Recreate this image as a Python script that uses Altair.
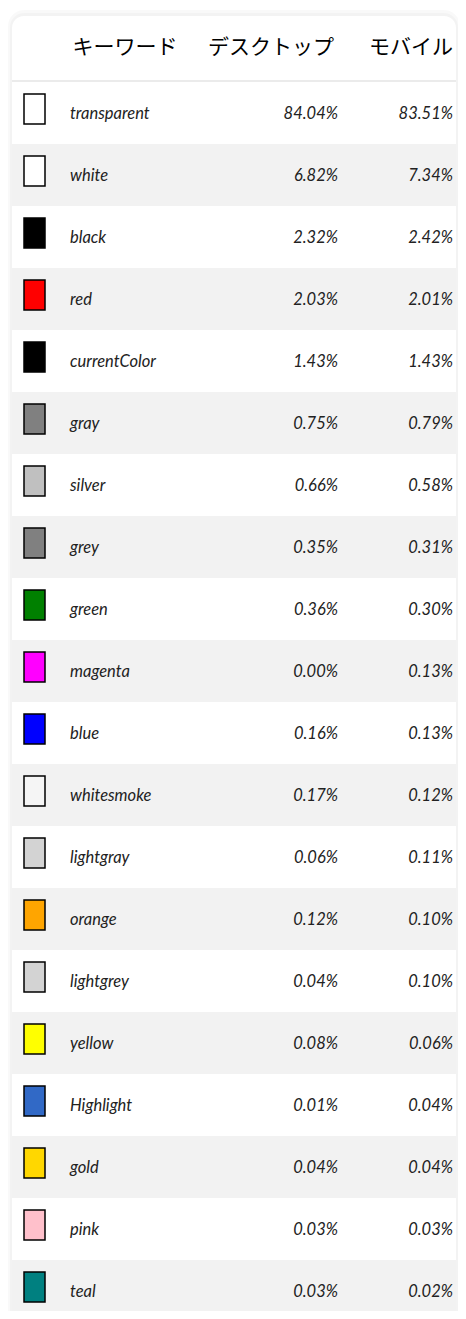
import altair as alt
import pandas as pd

keywords = ["transparent", "white", "black", "red", "currentColor", "gray", "silver",
            "grey", "green", "magenta", "blue", "whitesmoke", "lightgray", "orange",
            "lightgrey", "yellow", "Highlight", "gold", "pink", "teal"]
desktop = [84.04, 6.82, 2.32, 2.03, 1.43, 0.75, 0.66, 0.35, 0.36, 0.00, 0.16, 0.17,
           0.06, 0.12, 0.04, 0.08, 0.01, 0.04, 0.03, 0.03]
mobile = [83.51, 7.34, 2.42, 2.01, 1.43, 0.79, 0.58, 0.31, 0.30, 0.13, 0.13, 0.12,
          0.11, 0.10, 0.10, 0.06, 0.04, 0.04, 0.03, 0.02]
swatches = ["transparent", "#ffffff", "#000000", "#ff0000", "#000000", "#808080", "#c0c0c0",
            "#808080", "#008000", "#ff00ff", "#0000ff", "#f5f5f5", "#d3d3d3", "#ffa500",
            "#d3d3d3", "#ffff00", "#3169c6", "#ffd700", "#ffc0cb", "#008080"]
headers = ["キーワード", "デスクトップ", "モバイル"]

df = pd.DataFrame({
    "keyword": keywords,
    "desktop": desktop,
    "mobile": mobile,
    "swatch": swatches,
})
df["shade"] = ["even" if i % 2 == 0 else "odd" for i in range(len(keywords))]
df["desk_label"] = [f"{v:.2f}%" for v in desktop]
df["mob_label"] = [f"{v:.2f}%" for v in mobile]

W, H = 450, 1303
LEFT, RIGHT = 4, 448

yenc = alt.Y("keyword:N", sort=keywords,
             scale=alt.Scale(range=[74, 74 + 62 * len(keywords)], paddingInner=0, paddingOuter=0),
             axis=None)

one = pd.DataFrame({"a": [0]})

shadow1 = alt.Chart(one).mark_rect(cornerRadius=16, fill="#000000", opacity=0.025).encode(
    x=alt.value(LEFT - 4), x2=alt.value(RIGHT + 4), y=alt.value(2), y2=alt.value(H + 20))
shadow2 = alt.Chart(one).mark_rect(cornerRadius=14, fill="#000000", opacity=0.025).encode(
    x=alt.value(LEFT - 2), x2=alt.value(RIGHT + 2), y=alt.value(5), y2=alt.value(H + 20))
card = alt.Chart(one).mark_rect(cornerRadius=12, fill="#ffffff").encode(
    x=alt.value(LEFT), x2=alt.value(RIGHT), y=alt.value(8), y2=alt.value(H + 20))

rows = alt.Chart(df).mark_rect().encode(
    x=alt.value(LEFT), x2=alt.value(RIGHT), y=yenc,
    fill=alt.Fill("shade:N", scale=alt.Scale(domain=["even", "odd"], range=["#ffffff", "#f2f2f2"]), legend=None))

sep = alt.Chart(one).mark_rule(color="#ebebeb", strokeWidth=2).encode(
    x=alt.value(LEFT), x2=alt.value(RIGHT), y=alt.value(73))

swatch = alt.Chart(df).mark_bar(height=30, yOffset=-4, stroke="#000000", strokeWidth=1.5).encode(
    x=alt.value(16), x2=alt.value(37), y=yenc,
    fill=alt.Fill("swatch:N", scale=None))

txt_style = dict(font="Lato", fontStyle="italic", fontSize=16.5, color="#222222", baseline="middle", dy=1)
kw_text = alt.Chart(df).mark_text(align="left", **txt_style).encode(
    x=alt.value(62), y=yenc, text="keyword:N")
desk_text = alt.Chart(df).mark_text(align="right", **txt_style).encode(
    x=alt.value(330), y=yenc, text="desk_label:N")
mob_text = alt.Chart(df).mark_text(align="right", **txt_style).encode(
    x=alt.value(445), y=yenc, text="mob_label:N")

header_centers = [117, 263, 403]
header_layers = []
for h, cx in zip(headers, header_centers):
    header_layers.append(
        alt.Chart(pd.DataFrame({"h": [h]})).mark_text(
            font="Noto Sans CJK JP", fontSize=21, fontWeight="normal", color="#000000",
            align="center", baseline="middle"
        ).encode(x=alt.value(cx), y=alt.value(40), text="h:N"))

chart = alt.layer(shadow1, shadow2, card, rows, sep, swatch, kw_text, desk_text, mob_text,
                  *header_layers).properties(
    width=W, height=H, padding=0, autosize=alt.AutoSizeParams(type="none"), background="#ffffff"
).configure_view(stroke=None)

chart.save("out.html", embed_options={"renderer": "svg", "actions": False})
